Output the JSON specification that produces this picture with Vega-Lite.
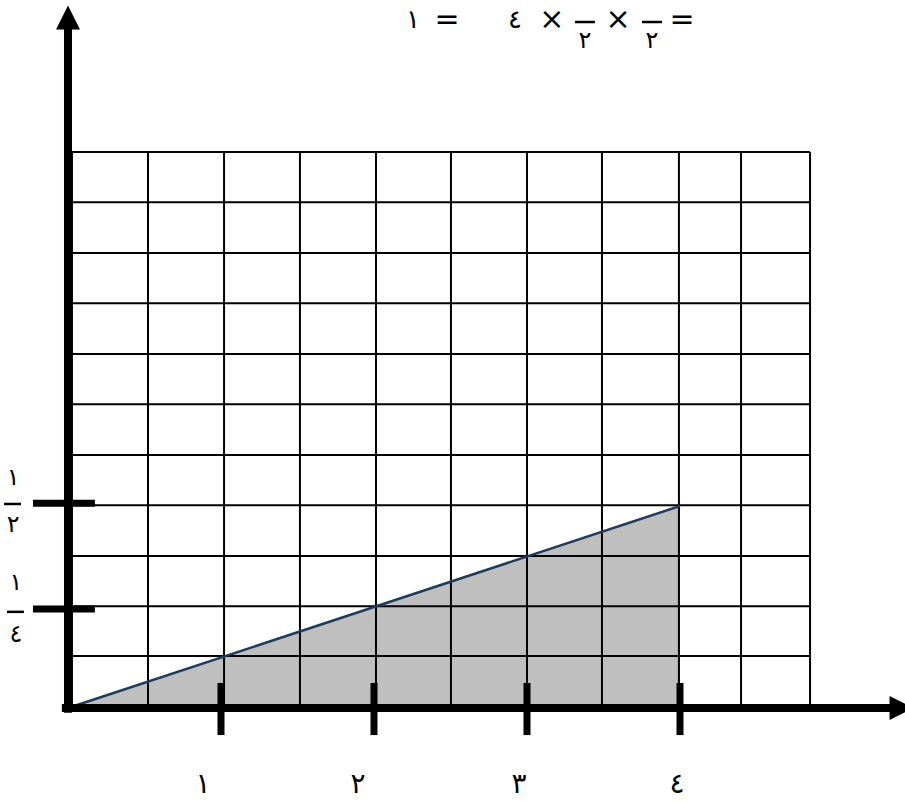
{
  "$schema": "https://vega.github.io/schema/vega-lite/v6.json",
  "width": 905,
  "height": 801,
  "padding": 0,
  "autosize": {"type": "none"},
  "background": "white",
  "config": {"view": {"stroke": null}},
  "datasets": {
    "triangle": [{"x": 0, "y": 0}, {"x": 4, "y": 0.5}],
    "vgrid": [{"x": 0.026}, {"x": 0.523}, {"x": 1.02}, {"x": 1.516}, {"x": 2.013}, {"x": 2.503}, {"x": 3.0}, {"x": 3.49}, {"x": 3.993}, {"x": 4.399}, {"x": 4.85}],
    "hgrid": [{"y": 0.129}, {"y": 0.252}, {"y": 0.376}, {"y": 0.502}, {"y": 0.626}, {"y": 0.752}, {"y": 0.876}, {"y": 1.002}, {"y": 1.126}, {"y": 1.252}, {"y": 1.376}],
    "axes": [
      {"x1": -0.04, "y1": 0, "x2": 5.4, "y2": 0},
      {"x1": 0, "y1": -0.012, "x2": 0, "y2": 1.7}
    ],
    "xticks": [{"x": 1}, {"x": 2}, {"x": 3}, {"x": 4}],
    "yticks": [{"y": 0.245}, {"y": 0.507}],
    "xlabels": [
      {"x": 0.882, "y": -0.19, "t": "١"},
      {"x": 1.895, "y": -0.19, "t": "٢"},
      {"x": 2.948, "y": -0.19, "t": "٣"},
      {"x": 3.98, "y": -0.19, "t": "٤"}
    ],
    "fracdigits": [
      {"x": -0.359, "y": 0.569, "t": "١"},
      {"x": -0.359, "y": 0.453, "t": "٢"},
      {"x": -0.34, "y": 0.309, "t": "١"},
      {"x": -0.34, "y": 0.181, "t": "٤"},
      {"x": 3.379, "y": 1.77, "t": "١"},
      {"x": 3.817, "y": 1.77, "t": "١"},
      {"x": 3.379, "y": 1.651, "t": "٢"},
      {"x": 3.817, "y": 1.651, "t": "٢"}
    ],
    "fracbars": [
      {"x1": -0.418, "x2": -0.307, "y": 0.505},
      {"x1": -0.399, "x2": -0.288, "y": 0.238},
      {"x1": 3.314, "x2": 3.444, "y": 1.698},
      {"x1": 3.752, "x2": 3.882, "y": 1.698}
    ],
    "titledigits": [
      {"x": 2.255, "y": 1.703, "t": "١"},
      {"x": 2.922, "y": 1.703, "t": "٤"}
    ],
    "titleops": [
      {"x": 2.477, "y": 1.703, "t": "="},
      {"x": 3.163, "y": 1.703, "t": "×"},
      {"x": 3.595, "y": 1.703, "t": "×"},
      {"x": 4.013, "y": 1.703, "t": "="}
    ],
    "uparrow": [{"x": 0, "y": 1.709}],
    "rightarrow": [{"x": 5.448, "y": 0}]
  },
  "resolve": {"scale": {"x": "shared", "y": "shared"}},
  "layer": [
    {
      "data": {"name": "triangle"},
      "mark": {"type": "area", "color": "#bfbfbf"},
      "encoding": {
        "x": {"field": "x", "type": "quantitative", "scale": {"domain": [-0.4444, 5.4706], "nice": false, "zero": false}, "axis": null},
        "y": {"field": "y", "type": "quantitative", "scale": {"domain": [-0.2302, 1.7525], "nice": false, "zero": false}, "axis": null},
        "y2": {"datum": 0}
      }
    },
    {
      "data": {"name": "vgrid"},
      "mark": {"type": "rule", "color": "black", "strokeWidth": 2},
      "encoding": {
        "x": {"field": "x", "type": "quantitative"},
        "y": {"datum": 0},
        "y2": {"datum": 1.376}
      }
    },
    {
      "data": {"name": "hgrid"},
      "mark": {"type": "rule", "color": "black", "strokeWidth": 2},
      "encoding": {
        "y": {"field": "y", "type": "quantitative"},
        "x": {"datum": 0.026},
        "x2": {"datum": 4.85}
      }
    },
    {
      "data": {"name": "triangle"},
      "mark": {"type": "line", "color": "#1f3a5a", "strokeWidth": 2.5},
      "encoding": {
        "x": {"field": "x", "type": "quantitative"},
        "y": {"field": "y", "type": "quantitative"}
      }
    },
    {
      "data": {"name": "axes"},
      "mark": {"type": "rule", "color": "black", "strokeWidth": 8},
      "encoding": {
        "x": {"field": "x1", "type": "quantitative"},
        "x2": {"field": "x2"},
        "y": {"field": "y1", "type": "quantitative"},
        "y2": {"field": "y2"}
      }
    },
    {
      "data": {"name": "uparrow"},
      "mark": {"type": "point", "shape": "M0,-1L1,1L-1,1Z", "size": 576, "filled": true, "color": "black", "opacity": 1},
      "encoding": {
        "x": {"field": "x", "type": "quantitative"},
        "y": {"field": "y", "type": "quantitative"}
      }
    },
    {
      "data": {"name": "rightarrow"},
      "mark": {"type": "point", "shape": "M-1,-1L1,0L-1,1Z", "size": 576, "filled": true, "color": "black", "opacity": 1},
      "encoding": {
        "x": {"field": "x", "type": "quantitative"},
        "y": {"field": "y", "type": "quantitative"}
      }
    },
    {
      "data": {"name": "xticks"},
      "mark": {"type": "rule", "color": "black", "strokeWidth": 7},
      "encoding": {
        "x": {"field": "x", "type": "quantitative"},
        "y": {"datum": -0.067},
        "y2": {"datum": 0.062}
      }
    },
    {
      "data": {"name": "yticks"},
      "mark": {"type": "rule", "color": "black", "strokeWidth": 7},
      "encoding": {
        "y": {"field": "y", "type": "quantitative"},
        "x": {"datum": -0.229},
        "x2": {"datum": 0.176}
      }
    },
    {
      "data": {"name": "fracbars"},
      "mark": {"type": "rule", "color": "black", "strokeWidth": 2.5},
      "encoding": {
        "y": {"field": "y", "type": "quantitative"},
        "x": {"field": "x1", "type": "quantitative"},
        "x2": {"field": "x2"}
      }
    },
    {
      "data": {"name": "xlabels"},
      "mark": {"type": "text", "font": "DejaVu Sans", "fontSize": 28, "color": "black", "baseline": "middle", "align": "center"},
      "encoding": {
        "x": {"field": "x", "type": "quantitative"},
        "y": {"field": "y", "type": "quantitative"},
        "text": {"field": "t"}
      }
    },
    {
      "data": {"name": "fracdigits"},
      "mark": {"type": "text", "font": "DejaVu Sans", "fontSize": 24, "color": "black", "baseline": "middle", "align": "center"},
      "encoding": {
        "x": {"field": "x", "type": "quantitative"},
        "y": {"field": "y", "type": "quantitative"},
        "text": {"field": "t"}
      }
    },
    {
      "data": {"name": "titledigits"},
      "mark": {"type": "text", "font": "DejaVu Sans", "fontSize": 26, "color": "black", "baseline": "middle", "align": "center"},
      "encoding": {
        "x": {"field": "x", "type": "quantitative"},
        "y": {"field": "y", "type": "quantitative"},
        "text": {"field": "t"}
      }
    },
    {
      "data": {"name": "titleops"},
      "mark": {"type": "text", "font": "DejaVu Sans", "fontSize": 30, "color": "black", "baseline": "middle", "align": "center"},
      "encoding": {
        "x": {"field": "x", "type": "quantitative"},
        "y": {"field": "y", "type": "quantitative"},
        "text": {"field": "t"}
      }
    }
  ]
}
